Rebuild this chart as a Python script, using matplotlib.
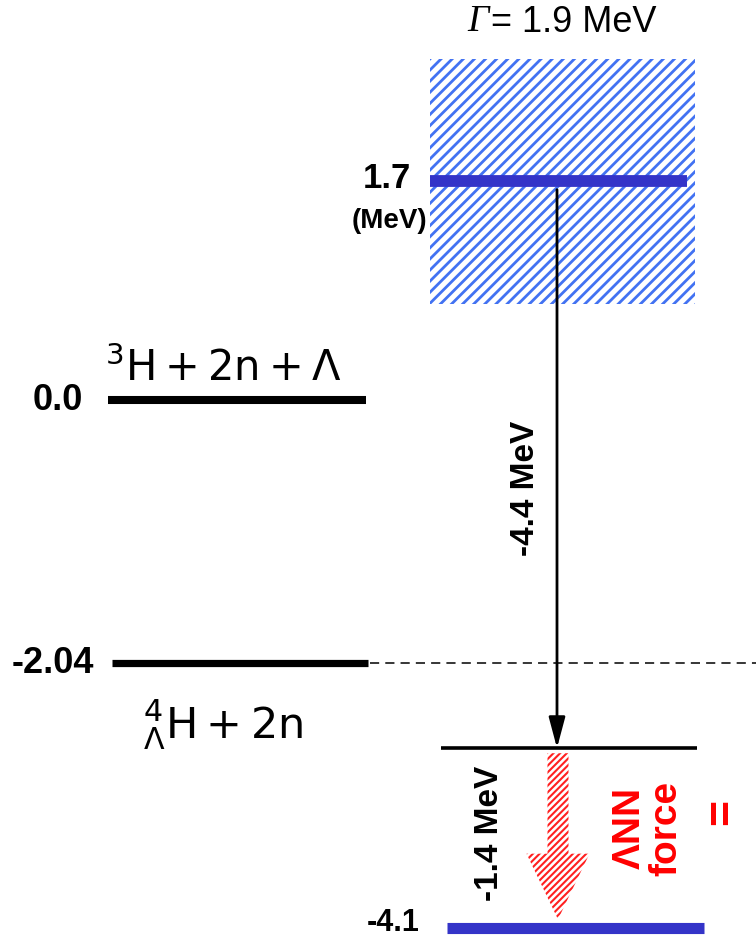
import numpy as np
import matplotlib
matplotlib.use("Agg")
import matplotlib.pyplot as plt
from matplotlib.patches import Rectangle, Polygon

plt.rcParams['font.family'] = ['Liberation Sans', 'DejaVu Sans']

# energies (MeV)
threshold_E = 0.0
bound_E = -2.04
resonance_E = 1.7
width_G = 1.9
transition_dE = -4.4
ann_dE = -1.4
final_E = resonance_E + transition_dE          # -2.7
final_ann_E = -4.1

level_labels = ['0.0', '-2.04', '1.7', '-4.1']


# pixel row -> energy, to match the reference layout
def py2e(py):
    return (400.3 - py) / 128.8


fig = plt.figure(figsize=(7.56, 9.41), dpi=100)
ax = fig.add_axes([0, 0, 1, 1])
ax.set_xlim(0, 756)
ax.set_ylim(py2e(941), py2e(0))
ax.axis('off')

# resonance width box
plt.rcParams['hatch.linewidth'] = 2.0
box = Rectangle((430, resonance_E - width_G / 2), 265, width_G,
                facecolor='white', edgecolor='#4272F2', lw=0, hatch='///')
ax.add_patch(box)

# levels
ax.hlines(threshold_E, 108, 366, color='black', lw=5.8, capstyle='butt')
ax.hlines(bound_E, 112, 368, color='black', lw=5.2, capstyle='butt')
ax.hlines(bound_E, 370, 756, color='black', lw=1.1, linestyles=(0, (6, 4)))
ax.hlines(resonance_E, 430, 687, color='#3434C8', lw=8.5, capstyle='butt')
ax.hlines(final_E, 441, 697, color='black', lw=2.6, capstyle='butt')
ax.hlines(final_ann_E, 447, 704, color='#3434C8', lw=8.0, capstyle='butt')

# level numbers
bold = dict(fontweight='bold', va='center', ha='right')
ax.text(83, threshold_E, level_labels[0], fontsize=26, **bold)
ax.text(94, bound_E, level_labels[1], fontsize=26, **bold)
ax.text(411, resonance_E + 0.02, level_labels[2], fontsize=25, **bold)
ax.text(427, resonance_E - 0.31, '(MeV)', fontsize=20, **bold)
ax.text(420, final_ann_E + 0.04, level_labels[3], fontsize=22, **bold)

ax.text(489, py2e(22), '\u0393', fontsize=27, ha='right', va='center',
        family='Liberation Serif', style='italic')
ax.text(491, py2e(22), '= 1.9 MeV', fontsize=26, ha='left', va='center')

ax.text(105, py2e(381), r'$^{3}\mathrm{H}+2\mathrm{n}+\Lambda$',
        fontsize=30, ha='left', va='baseline', math_fontfamily='dejavusans')
ax.text(143, py2e(738), r'${}^{4}_{\Lambda}\mathrm{H}+2\mathrm{n}$',
        fontsize=31, ha='left', va='baseline', math_fontfamily='dejavusans')

# transition arrow
ax.annotate('', xy=(557, final_E), xytext=(557, resonance_E),
            arrowprops=dict(arrowstyle='-|>,head_length=0.75,head_width=0.2',
                            color='black', lw=2, mutation_scale=25,
                            shrinkA=6, shrinkB=0))
ax.text(526, py2e(488), '%.1f MeV' % transition_dE, rotation=90,
        fontsize=24, fontweight='bold', ha='center', va='center')

# Lambda-NN force arrow
plt.rcParams['hatch.linewidth'] = 1.5
cx, sw, hw = 558, 21, 63
y0, y1, y2 = final_E - 0.04, final_ann_E + 0.58, final_ann_E + 0.07
verts = [(cx - sw / 2, y0), (cx + sw / 2, y0), (cx + sw / 2, y1),
         (cx + hw / 2, y1), (cx, y2), (cx - hw / 2, y1), (cx - sw / 2, y1)]
ax.add_patch(Polygon(verts, closed=True, facecolor='white',
                     edgecolor='#FF2020', lw=0, hatch='/////'))

ax.text(490, py2e(833), '%.1f MeV' % ann_dE, rotation=90,
        fontsize=24, fontweight='bold', ha='center', va='center')
ax.text(648, py2e(828), '\u039bNN\nforce', rotation=90, color='red',
        fontsize=28, fontweight='bold', ha='center', va='center',
        multialignment='center', linespacing=1.0)
ax.text(723, py2e(812), '=', rotation=90, color='red',
        fontsize=32, fontweight='bold', ha='center', va='center')

fig.savefig('out.png', dpi=100)
